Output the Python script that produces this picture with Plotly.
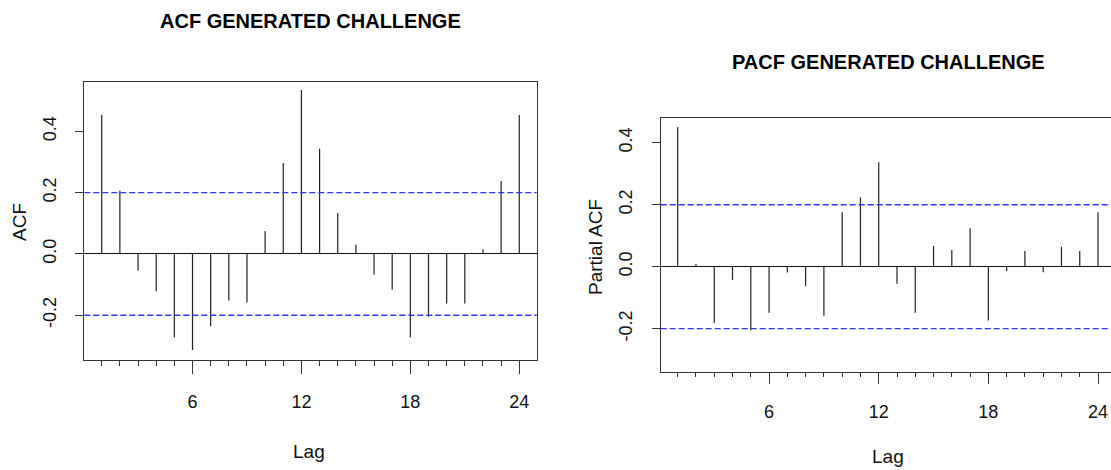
import plotly.graph_objects as go

# ---- data ----
lags = list(range(1, 25))
acf_vals = [0.453, 0.206, -0.054, -0.122, -0.272, -0.313, -0.236, -0.152, -0.158, 0.075,
            0.297, 0.535, 0.343, 0.134, 0.030, -0.067, -0.117, -0.272, -0.205, -0.162,
            -0.162, 0.015, 0.238, 0.453]
pacf_vals = [0.451, 0.009, -0.182, -0.043, -0.205, -0.149, -0.019, -0.063, -0.158, 0.176,
             0.223, 0.337, -0.055, -0.149, 0.067, 0.054, 0.124, -0.174, -0.015, 0.051,
             -0.018, 0.064, 0.051, 0.176]
ci_level = 0.2
x_tick_vals = [6, 12, 18, 24]
y_tick_vals = [-0.2, 0.0, 0.2, 0.4]
y_tick_text = ["-0.2", "0.0", "0.2", "0.4"]
titles = ["ACF GENERATED CHALLENGE", "PACF GENERATED CHALLENGE"]
y_titles = ["ACF", "Partial ACF"]
x_title = "Lag"

W, H = 1111, 470
FONT = "Liberation Sans Narrow, Liberation Sans, Arial, sans-serif"


def stems(xs, ys):
    sx, sy = [], []
    for x, y in zip(xs, ys):
        sx += [x, x, None]
        sy += [0, y, None]
    return sx, sy


fig = go.Figure()
for i, vals in enumerate([acf_vals, pacf_vals]):
    sx, sy = stems(lags, vals)
    ax = "" if i == 0 else "2"
    fig.add_trace(go.Scatter(x=sx, y=sy, mode="lines", line=dict(color="#222", width=1.2),
                             xaxis="x" + ax, yaxis="y" + ax, showlegend=False, hoverinfo="skip"))

# panel geometry (pixels)
panels = [
    dict(l=84.3, r=536.7, t=81.7, b=360.0, xr=[0.04, 24.96], yr=[-0.346, 0.562], mirror_y=True,
         title_xy=(310, 21), ytitle_xy=(19, 222), xtitle_xy=(309, 451), maj=13, mnr=5),
    dict(l=660.7, r=1111.0, t=118.3, b=371.7, xr=[0.07, 24.71], yr=[-0.339, 0.479], mirror_y=False,
         title_xy=(888, 62), ytitle_xy=(595, 247), xtitle_xy=(888, 456), maj=11, mnr=4),
]

layout = dict(width=W, height=H, margin=dict(l=0, r=0, t=0, b=0),
              paper_bgcolor="white", plot_bgcolor="white", showlegend=False)
annotations = []
shapes = []
for i, p in enumerate(panels):
    ax = "" if i == 0 else "2"
    xa = "xaxis" + ax
    ya = "yaxis" + ax
    layout[xa] = dict(domain=[p["l"] / W, p["r"] / W], range=p["xr"], anchor="y" + ax,
                      tickvals=x_tick_vals, ticks="outside", ticklen=p["maj"], tickcolor="#333",
                      tickwidth=1.3, showgrid=False, zeroline=False, showline=True,
                      linecolor="#333", linewidth=1.4, mirror=True,
                      tickfont=dict(family=FONT, size=18, color="#111"), ticklabelstandoff=12,
                      minor=dict(tickvals=lags, ticks="outside", ticklen=p["mnr"], tickcolor="#333",
                                 tickwidth=1.2, showgrid=False))
    layout[ya] = dict(domain=[1 - p["b"] / H, 1 - p["t"] / H], range=p["yr"], anchor="x" + ax,
                      tickvals=y_tick_vals, ticktext=y_tick_text, ticks="outside", ticklen=8,
                      tickcolor="#333", tickwidth=1.3, tickangle=-90, showgrid=False,
                      zeroline=True, zerolinecolor="#111", zerolinewidth=1.3,
                      showline=True, linecolor="#333", linewidth=1.4, mirror=p["mirror_y"],
                      tickfont=dict(family=FONT, size=18, color="#111"), ticklabelstandoff=12)
    for s in (ci_level, -ci_level):
        shapes.append(dict(type="line", xref="x" + ax + " domain", x0=0, x1=1, yref="y" + ax,
                           y0=s, y1=s, line=dict(color="rgb(50,50,255)", width=1.3, dash="6px,3px")))
    tx, ty = p["title_xy"]
    annotations.append(dict(text="<b>" + titles[i] + "</b>", xref="paper", yref="paper",
                            x=tx / W, y=1 - ty / H, xanchor="center", yanchor="middle",
                            showarrow=False, font=dict(family=FONT, size=20, color="#000")))
    yx, yy = p["ytitle_xy"]
    annotations.append(dict(text=y_titles[i], xref="paper", yref="paper", x=yx / W, y=1 - yy / H,
                            xanchor="center", yanchor="middle", textangle=-90, showarrow=False,
                            font=dict(family=FONT, size=19, color="#111")))
    lx, ly = p["xtitle_xy"]
    annotations.append(dict(text=x_title, xref="paper", yref="paper", x=lx / W, y=1 - ly / H,
                            xanchor="center", yanchor="middle", showarrow=False,
                            font=dict(family=FONT, size=19, color="#111")))

layout["annotations"] = annotations
layout["shapes"] = shapes
fig.update_layout(**layout)
fig.write_html("out.html")
